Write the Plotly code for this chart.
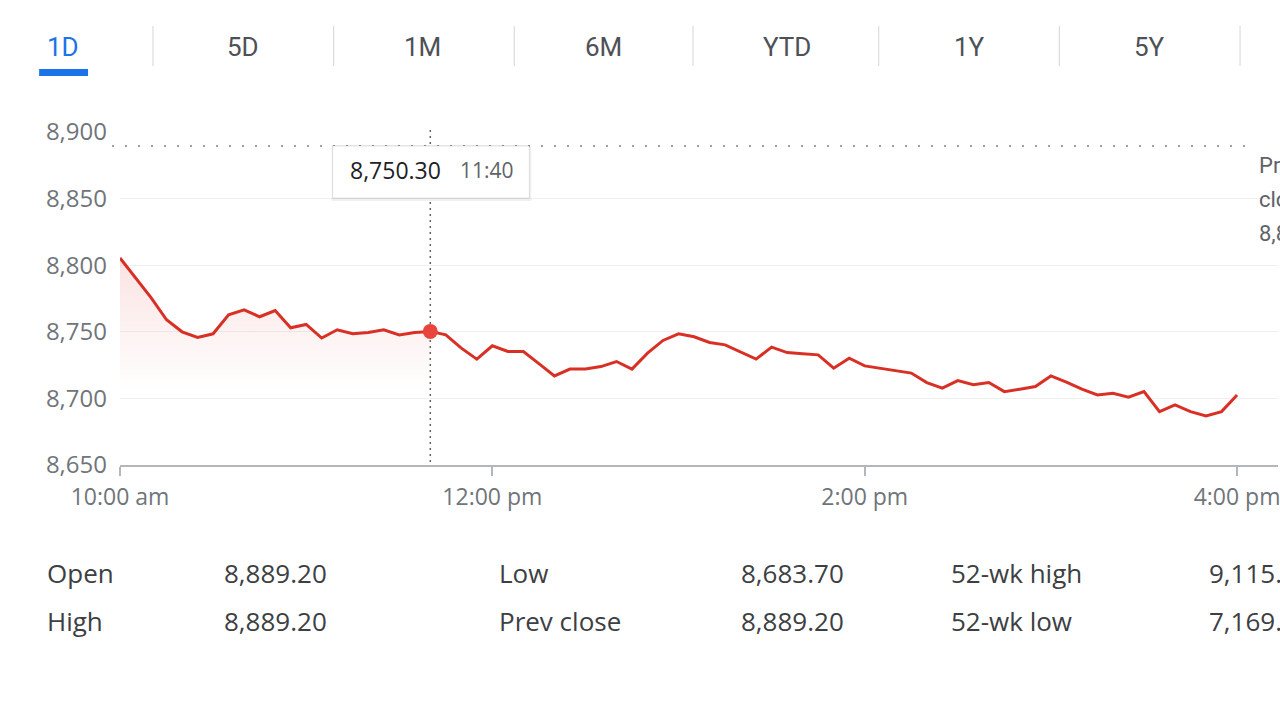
import plotly.graph_objects as go
import pandas as pd

# ---------------- data ----------------
times = pd.date_range("2024-01-02 10:00", "2024-01-02 16:00", freq="5min")
prices = [
    8805.4, 8790.6, 8775.6, 8759.0, 8750.0, 8745.7, 8748.5, 8762.8, 8766.5, 8761.3, 8766.0, 8753.0,
    8755.5, 8745.3, 8751.5, 8748.5, 8749.5, 8751.5, 8747.7, 8749.5, 8750.3, 8747.7, 8737.7, 8729.5,
    8739.5, 8735.2, 8735.2, 8726.1, 8716.9, 8722.0, 8722.0, 8723.9, 8727.7, 8722.0, 8734.0, 8743.5,
    8748.5, 8746.3, 8742.0, 8740.2, 8735.0, 8729.5, 8738.5, 8734.4, 8733.5, 8732.7, 8722.7, 8730.2,
    8724.4, 8722.7, 8720.9, 8719.0, 8711.9, 8707.7, 8713.4, 8710.2, 8711.9, 8705.1, 8706.9, 8708.9,
    8716.9, 8712.3, 8706.9, 8702.6, 8703.9, 8700.9, 8705.1, 8690.1, 8695.1, 8690.1, 8686.8, 8690.1,
    8702.6,
]
hover_index = 20          # 11:40
hover_price_text = "8,750.30"
hover_time_text = "11:40"
prev_close = 8889.20

x_tick_vals = ["2024-01-02 10:00", "2024-01-02 12:00", "2024-01-02 14:00", "2024-01-02 16:00"]
x_tick_text = ["10:00 am", "12:00 pm", "2:00 pm", "4:00 pm"]
y_tick_vals = [8650, 8700, 8750, 8800, 8850, 8900]

tabs = ["1D", "5D", "1M", "6M", "YTD", "1Y", "5Y"]
stat_labels_row1 = ["Open", "Low", "52-wk high"]
stat_values_row1 = ["8,889.20", "8,683.70", "9,115.20"]
stat_labels_row2 = ["High", "Prev close", "52-wk low"]
stat_values_row2 = ["8,889.20", "8,889.20", "7,169.20"]
prev_close_label = ["Prev", "close", "8,889.20"]

# ---------------- layout geometry ----------------
W, H = 1280, 719
L, R, T, B = 120, 0, 132, 254
PW, PH = W - L - R, H - T - B
BOTTOM = T + PH


def px(x):
    return (x - L) / PW


def py(y):
    return (BOTTOM - y) / PH


RED = "#d93025"
GRAY = "#70757a"
DARK = "#3c4043"

fig = go.Figure()

# gradient fill up to the hovered point
fig.add_trace(go.Scatter(
    x=times[:hover_index + 1], y=prices[:hover_index + 1],
    mode="lines", line=dict(width=0, color=RED), fill="tozeroy",
    fillgradient=dict(type="vertical", start=8705, stop=8810,
                      colorscale=[[0, "rgba(217,48,37,0)"], [1, "rgba(217,48,37,0.14)"]]),
    hoverinfo="skip", showlegend=False,
))
# price line
fig.add_trace(go.Scatter(
    x=times, y=prices, mode="lines",
    line=dict(color=RED, width=3), hoverinfo="skip", showlegend=False,
))
# hovered point
fig.add_trace(go.Scatter(
    x=[times[hover_index]], y=[prices[hover_index]], mode="markers",
    marker=dict(color="#e8453c", size=15, line=dict(width=0)),
    hoverinfo="skip", showlegend=False,
))

shapes = []
annotations = []

# vertical dotted cursor line
shapes.append(dict(type="line", xref="x", yref="paper",
                   x0=times[hover_index], x1=times[hover_index], y0=py(130), y1=py(462),
                   line=dict(color="#5f6368", width=1.5, dash="2px,4px"), layer="below"))
# previous close dotted line
shapes.append(dict(type="line", xref="paper", yref="paper",
                   x0=px(112), x1=px(1256), y0=py(146), y1=py(146),
                   line=dict(color="#9aa0a6", width=2.2, dash="2px,11px"), layer="below"))

# tooltip box (shadow + box)
shapes.append(dict(type="rect", xref="paper", yref="paper",
                   x0=px(332), x1=px(532), y0=py(145), y1=py(201),
                   fillcolor="rgba(0,0,0,0.06)", line=dict(width=0), layer="above"))
shapes.append(dict(type="rect", xref="paper", yref="paper",
                   x0=px(333), x1=px(530), y0=py(146), y1=py(198),
                   fillcolor="white", line=dict(color="rgba(0,0,0,0.10)", width=1), layer="above"))
annotations.append(dict(xref="paper", yref="paper", x=px(348), y=py(170), xanchor="left", yanchor="middle",
                        text=hover_price_text, showarrow=False,
                        font=dict(family="Open Sans", size=23, color="#202124")))
annotations.append(dict(xref="paper", yref="paper", x=px(459), y=py(170), xanchor="left", yanchor="middle",
                        text=hover_time_text, showarrow=False,
                        font=dict(family="Open Sans", size=21, color="#5f6368")))

# prev close label (partly beyond the right edge, as in the reference)
for i, t in enumerate(prev_close_label):
    annotations.append(dict(xref="paper", yref="paper", x=px(1259), y=py(165 + 34 * i),
                            xanchor="left", yanchor="middle", text=t, showarrow=False,
                            font=dict(family="Roboto", size=22, color="#5f6368")))

# tabs
tab_centers = [63, 243, 423, 604, 788, 971, 1151]
tab_seps = [153, 334, 515, 694, 880, 1061, 1242]
for i, t in enumerate(tabs):
    annotations.append(dict(xref="paper", yref="paper", x=px(tab_centers[i]), y=py(47),
                            xanchor="center", yanchor="middle", text=t, showarrow=False,
                            font=dict(family="Roboto", size=26,
                                      color="#1a73e8" if i == 0 else "#4d5156")))
for s in tab_seps:
    shapes.append(dict(type="line", xref="paper", yref="paper", x0=px(s), x1=px(s),
                       y0=py(26), y1=py(66), line=dict(color="#dadce0", width=1.2)))
shapes.append(dict(type="rect", xref="paper", yref="paper", x0=px(39), x1=px(88),
                   y0=py(69), y1=py(76), fillcolor="#1a73e8", line=dict(width=0)))

# stats table
col_x = [(45, 222), (498, 740), (950, 1209)]
for row_y, labels, values in [(573, stat_labels_row1, stat_values_row1),
                              (621, stat_labels_row2, stat_values_row2)]:
    for (lx, vx), lab, val in zip(col_x, labels, values):
        annotations.append(dict(xref="paper", yref="paper", x=px(lx), y=py(row_y), xanchor="left",
                                yanchor="middle", text=lab, showarrow=False,
                                font=dict(family="Open Sans", size=26, color=DARK)))
        annotations.append(dict(xref="paper", yref="paper", x=px(vx), y=py(row_y), xanchor="left",
                                yanchor="middle", text=val, showarrow=False,
                                font=dict(family="Open Sans", size=26, color=DARK)))

x_end = pd.Timestamp("2024-01-02 16:00") + pd.Timedelta(minutes=60 * (1280 - 1239) / 186.5)

fig.update_layout(
    width=W, height=H,
    margin=dict(l=L, r=R, t=T, b=B, pad=0),
    paper_bgcolor="white", plot_bgcolor="white",
    hovermode=False,
    shapes=shapes, annotations=annotations,
    xaxis=dict(
        type="date", range=[pd.Timestamp("2024-01-02 10:00"), x_end],
        tickvals=x_tick_vals, ticktext=x_tick_text,
        showgrid=False, zeroline=False,
        showline=True, linecolor="#b3b7bb", linewidth=2,
        ticks="outside", ticklen=9, tickwidth=2, tickcolor="#b3b7bb",
        tickfont=dict(family="Open Sans", size=23, color=GRAY),
        ticklabelstandoff=1, ticklabeloverflow="allow",
    ),
    yaxis=dict(
        range=[8650, 8900], tickvals=y_tick_vals, tickformat=",",
        showgrid=True, gridcolor="#eef0f1", gridwidth=1, zeroline=False,
        showline=False, ticks="",
        tickfont=dict(family="Open Sans", size=24, color=GRAY),
        ticklabelstandoff=12,
    ),
)

fig.write_html("out.html")
